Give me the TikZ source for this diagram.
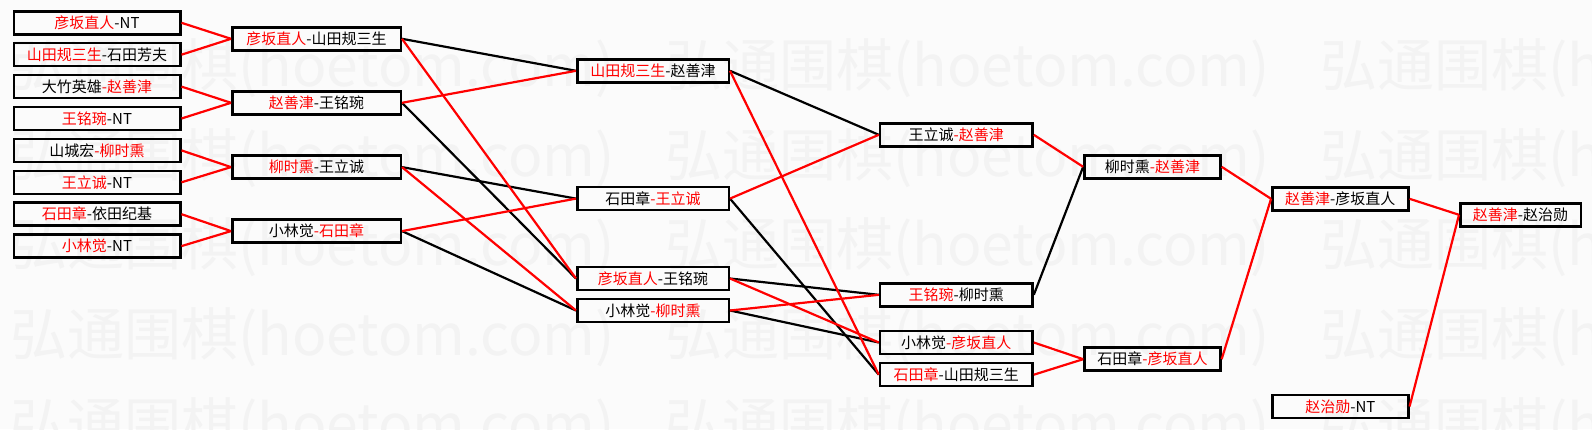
\documentclass[tikz,border=0pt]{standalone}
\usepackage{fontspec}
\newfontfamily\cjk{Noto Sans CJK SC}
\definecolor{bg}{RGB}{251,251,251}
\definecolor{wm}{RGB}{243,243,243}
\definecolor{wr}{RGB}{255,0,0}
\newcommand{\win}[1]{\textcolor{wr}{#1}}
\begin{document}
\begin{tikzpicture}[x=1pt,y=-1pt,
  bx/.style={draw=black, line width=2.5pt, minimum height=23pt, inner sep=0pt, font=\cjk\fontsize{15}{15}\selectfont},
  wmk/.style={inner sep=0pt, anchor=west, text=wm, font=\cjk\fontsize{57}{57}\selectfont},
  cw/.style={draw=wr, line width=2.2pt},
  cl/.style={draw=black, line width=2.2pt},
  c1/.style={bx, minimum width=166.5pt},
  c2/.style={bx, minimum width=168.5pt},
  c3/.style={bx, minimum width=151.5pt},
  c4/.style={bx, minimum width=152.5pt},
  c5/.style={bx, minimum width=136pt},
  c6/.style={bx, minimum width=136pt},
  c7/.style={bx, minimum width=120.5pt}]
\fill[bg] (0,0) rectangle (1592,429);
\useasboundingbox (0,0) rectangle (1592,429);
% watermark
\foreach \yy in {68,158,247,337,427}{
  \foreach \k in {0,1,2}{
    \node[wmk] (wm-\yy-\k) at ({10+655*\k},\yy) {弘通围棋(hoetom.com)};
  }
}
% round 1
\node[c1] (r1a) at (97,22.8) {\win{彦坂直人}-NT};
\node[c1] (r1b) at (97,54.7) {\win{山田规三生}-石田芳夫};
\node[c1] (r1c) at (97,86.6) {大竹英雄\win{-赵善津}};
\node[c1] (r1d) at (97,118.5) {\win{王铭琬}-NT};
\node[c1] (r1e) at (97,150.4) {山城宏\win{-柳时熏}};
\node[c1] (r1f) at (97,182.3) {\win{王立诚}-NT};
\node[c1] (r1g) at (97,214.2) {\win{石田章}-依田纪基};
\node[c1] (r1h) at (97,246.1) {\win{小林觉}-NT};
% round 2
\node[c2] (r2a) at (316.5,38.8) {\win{彦坂直人}-山田规三生};
\node[c2] (r2b) at (316.5,102.8) {\win{赵善津}-王铭琬};
\node[c2] (r2c) at (316.5,167.1) {\win{柳时熏}-王立诚};
\node[c2] (r2d) at (316.5,231.1) {小林觉\win{-石田章}};
% round 3
\node[c3] (r3a) at (653,70.8) {\win{山田规三生}-赵善津};
\node[c3] (r3b) at (653,198.6) {石田章\win{-王立诚}};
\node[c3] (r3c) at (653,278.5) {\win{彦坂直人}-王铭琬};
\node[c3] (r3d) at (653,310.5) {小林觉\win{-柳时熏}};
% round 4
\node[c4] (r4a) at (956.3,134.8) {王立诚\win{-赵善津}};
\node[c4] (r4b) at (956.3,294.8) {\win{王铭琬}-柳时熏};
\node[c4] (r4c) at (956.3,342.5) {小林觉\win{-彦坂直人}};
\node[c4] (r4d) at (956.3,374.7) {\win{石田章}-山田规三生};
% round 5
\node[c5] (r5a) at (1152.4,166.8) {柳时熏\win{-赵善津}};
\node[c5] (r5b) at (1152.4,359.2) {石田章\win{-彦坂直人}};
% round 6
\node[c6] (r6a) at (1340.3,198.8) {\win{赵善津}-彦坂直人};
\node[c6] (r6b) at (1340.3,406.5) {\win{赵治勋}-NT};
% round 7
\node[c7] (r7) at (1520.5,214.8) {\win{赵善津}-赵治勋};
% connectors: losers (black)
\draw[cl] (r2a.east) -- (r3a.west);
\draw[cl] (r2b.east) -- (r3c.west);
\draw[cl] (r2c.east) -- (r3b.west);
\draw[cl] (r2d.east) -- (r3d.west);
\draw[cl] (r3a.east) -- (r4a.west);
\draw[cl] (r3b.east) -- (r4d.west);
\draw[cl] (r3c.east) -- (r4b.west);
\draw[cl] (r3d.east) -- (r4c.west);
\draw[cl] (r4b.east) -- (r5a.west);
% connectors: winners (red)
\draw[cw] (r1a.east) -- (r2a.west);
\draw[cw] (r1b.east) -- (r2a.west);
\draw[cw] (r1c.east) -- (r2b.west);
\draw[cw] (r1d.east) -- (r2b.west);
\draw[cw] (r1e.east) -- (r2c.west);
\draw[cw] (r1f.east) -- (r2c.west);
\draw[cw] (r1g.east) -- (r2d.west);
\draw[cw] (r1h.east) -- (r2d.west);
\draw[cw] (r2a.east) -- (r3c.west);
\draw[cw] (r2b.east) -- (r3a.west);
\draw[cw] (r2c.east) -- (r3d.west);
\draw[cw] (r2d.east) -- (r3b.west);
\draw[cw] (r3a.east) -- (r4d.west);
\draw[cw] (r3b.east) -- (r4a.west);
\draw[cw] (r3c.east) -- (r4c.west);
\draw[cw] (r3d.east) -- (r4b.west);
\draw[cw] (r4a.east) -- (r5a.west);
\draw[cw] (r4c.east) -- (r5b.west);
\draw[cw] (r4d.east) -- (r5b.west);
\draw[cw] (r5a.east) -- (r6a.west);
\draw[cw] (r5b.east) -- (r6a.west);
\draw[cw] (r6a.east) -- (r7.west);
\draw[cw] (r6b.east) -- (r7.west);
\end{tikzpicture}
\end{document}
